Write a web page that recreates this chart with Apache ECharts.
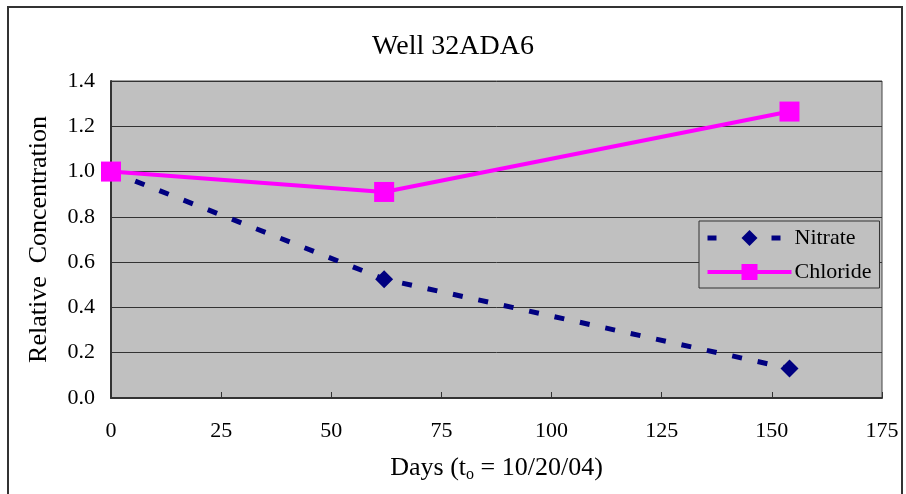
<!DOCTYPE html>
<html><head><meta charset="utf-8">
<script src="https://cdn.jsdelivr.net/npm/echarts@6/dist/echarts.min.js"></script>
<style>html,body{margin:0;padding:0;background:#fff;}#c{width:906px;height:494px;}</style>
</head><body><div id="c"></div>
<script>
const days = [0, 62, 154];
const nitrate = [1.0, 0.525, 0.13];
const chloride = [1.0, 0.91, 1.265];
const xTicks = [0, 25, 50, 75, 100, 125, 150, 175];
const yTicks = [0.0, 0.2, 0.4, 0.6, 0.8, 1.0, 1.2, 1.4];
const seriesNames = ['Nitrate', 'Chloride'];
const titleText = 'Well 32ADA6';
const xName = 'Days (t{sub|o} = 10/20/04)';
const yName = 'Relative  Concentration';

const font = 'Liberation Serif';
const chart = echarts.init(document.getElementById('c'), null, {renderer: 'canvas'});
chart.setOption({
  animation: false,
  textStyle: {fontFamily: font, color: '#000'},
  graphic: [{type: 'rect', shape: {x: 8, y: 7, width: 894, height: 500}, style: {fill: 'none', stroke: '#333', lineWidth: 2}, z: -10}],
  title: {text: titleText, left: 'center', top: 28, textStyle: {fontFamily: font, fontSize: 28, fontWeight: 'normal', color: '#000'}},
  grid: {left: 111, top: 81, right: 24, bottom: 96, show: true, backgroundColor: '#c0c0c0', borderColor: '#444', borderWidth: 1},
  legend: {
    orient: 'vertical', left: 699, top: 221,
    backgroundColor: '#c0c0c0', borderColor: '#333', borderWidth: 1,
    padding: [6, 8, 5, 6], itemGap: 12, itemWidth: 84, itemHeight: 20,
    textStyle: {fontFamily: font, fontSize: 22, color: '#000', padding: [0, 0, 0, -2]},
    data: [
      {name: seriesNames[0], lineStyle: {width: 5, type: [9, 55], color: '#000080'}},
      {name: seriesNames[1], lineStyle: {width: 4, color: '#ff00ff'}}
    ]
  },
  xAxis: {
    type: 'value', min: xTicks[0], max: xTicks[xTicks.length - 1], interval: 25,
    name: xName, nameLocation: 'middle', nameGap: 55,
    nameTextStyle: {fontFamily: font, fontSize: 26, color: '#000', rich: {sub: {fontFamily: font, fontSize: 16, padding: [14, 0, 0, 0], color: '#000'}}},
    axisLine: {lineStyle: {color: '#333', width: 2}},
    axisTick: {inside: true, length: 6, lineStyle: {color: '#333'}},
    axisLabel: {fontFamily: font, fontSize: 22, color: '#000', margin: 22},
    splitLine: {show: false}
  },
  yAxis: {
    type: 'value', min: yTicks[0], max: yTicks[yTicks.length - 1], interval: 0.2,
    name: yName, nameLocation: 'middle', nameGap: 59, nameRotate: 90,
    nameTextStyle: {fontFamily: font, fontSize: 26, color: '#000'},
    axisLine: {show: true, lineStyle: {color: '#333', width: 2}},
    axisTick: {show: true, inside: true, length: 6, lineStyle: {color: '#333'}},
    axisLabel: {fontFamily: font, fontSize: 22, color: '#000', margin: 16, formatter: v => v.toFixed(1)},
    splitLine: {lineStyle: {color: '#333', width: 1}}
  },
  series: [
    {name: seriesNames[0], type: 'line', data: days.map((d, i) => [d, nitrate[i]]),
     symbol: 'diamond', symbolSize: 18, itemStyle: {color: '#000080'},
     lineStyle: {color: '#000080', width: 5, type: [10, 16]}, z: 3},
    {name: seriesNames[1], type: 'line', data: days.map((d, i) => [d, chloride[i]]),
     symbol: 'rect', symbolSize: 20, itemStyle: {color: '#ff00ff'},
     lineStyle: {color: '#ff00ff', width: 4}, z: 4}
  ]
});
</script></body></html>
